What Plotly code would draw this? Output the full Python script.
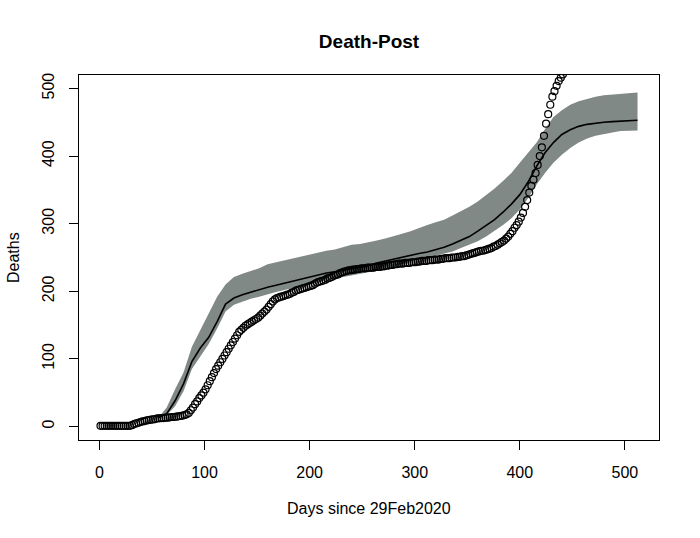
import plotly.graph_objects as go

# Observed deaths (open circles), every 2nd day from day 1 to day 445
obs_days = list(range(1, 446, 2))
obs_deaths = [
    1, 1, 1, 1, 1, 1, 1, 1, 1, 1, 1, 1, 1, 1,
    1, 2, 3.5, 4.5, 5.5, 6.5, 7.5, 8, 9, 9.5, 10, 10.5, 11, 12,
    12, 12.5, 12.5, 13, 13, 13.5, 14, 14, 14.5, 15, 15.5, 16, 17, 18,
    20, 24, 28, 33, 37, 42, 46, 50, 55, 61, 67, 73, 79, 85,
    90, 95, 100, 105, 110, 115, 120, 125, 130, 135, 140, 143, 146, 149,
    151, 153, 155, 157, 159, 161, 164, 167, 170, 173, 177, 181, 185, 188,
    190, 191, 192, 193, 194, 195, 196, 198, 199, 201, 202, 203, 204, 205,
    206, 207, 208, 209, 211, 213, 214, 215, 216, 217, 219, 220, 221, 223,
    224, 225, 227, 228, 229, 230, 231, 231, 232, 232, 233, 233, 234, 234,
    234, 235, 235, 235, 235, 236, 236, 236, 237, 237, 238, 238, 239, 239,
    240, 240, 241, 241, 241, 242, 242, 242, 243, 243, 243, 244, 244, 245,
    245, 245, 246, 246, 246, 247, 247, 247, 248, 248, 249, 249, 249, 250,
    250, 250, 251, 251, 252, 252, 253, 254, 255, 256, 257, 258, 259, 260,
    260, 261, 262, 263, 264, 266, 267, 269, 271, 273, 275, 278, 281, 285,
    289, 294, 298, 303, 309, 316, 325, 335, 346, 356, 365, 375, 387, 400,
    413, 430, 448, 462, 476, 488, 496, 504, 511, 516, 521, 526, 531,
]

# Model: median and uncertainty band, every 8th day from day 56 to 512
model_days = list(range(56, 513, 8))
model_median = [
    13, 19, 38, 63, 96, 116, 132, 155, 181, 190,
    195, 199, 203, 206, 209, 212, 215, 219, 222, 224,
    227, 229, 231, 233, 235, 238, 242, 245, 247, 250,
    253, 256, 258, 261, 265, 270, 275, 281, 289, 297,
    306, 317, 329, 343, 362, 385, 405, 420, 432, 439,
    444, 447, 449, 450, 451, 452, 453, 453,
]
model_upper = [
    13, 28, 55, 80, 118, 142, 168, 192, 210, 221,
    226, 230, 234, 240, 243, 246, 249, 252, 254, 257,
    260, 262, 265, 269, 270, 272, 275, 278, 281, 285,
    289, 294, 298, 302, 306, 312, 318, 325, 333, 342,
    352, 363, 375, 390, 405, 420, 440, 458, 468, 476,
    481, 485, 488, 490, 491, 493, 494, 494,
]
model_lower = [
    13, 17, 30, 52, 85, 103, 122, 145, 170, 180,
    185, 189, 192, 196, 199, 202, 205, 208, 211, 214,
    217, 219, 221, 223, 225, 228, 231, 234, 237, 240,
    243, 246, 249, 252, 255, 259, 264, 269, 274, 281,
    289, 298, 308, 321, 338, 358, 375, 390, 402, 412,
    420, 426, 430, 433, 435, 437, 438, 438,
]

x_ticks = [0, 100, 200, 300, 400, 500]
y_ticks = [0, 100, 200, 300, 400, 500]

BAND = "#818986"
FONT = "Liberation Sans, Arial, sans-serif"

fig = go.Figure()
fig.add_trace(go.Scatter(x=model_days, y=model_lower, mode="lines",
                         line=dict(width=0, color=BAND), hoverinfo="skip",
                         showlegend=False))
fig.add_trace(go.Scatter(x=model_days, y=model_upper, mode="lines",
                         line=dict(width=0, color=BAND), fill="tonexty",
                         fillcolor=BAND, showlegend=False))
fig.add_trace(go.Scatter(x=model_days, y=model_median, mode="lines",
                         line=dict(width=1.6, color="black"), showlegend=False))
fig.add_trace(go.Scatter(x=obs_days, y=obs_deaths, mode="markers",
                         marker=dict(symbol="circle-open", size=7, color="black",
                                     line=dict(width=1.2, color="black")),
                         showlegend=False))

axis_common = dict(showgrid=False, zeroline=False, showline=True, linecolor="black",
                   linewidth=1, mirror=True, ticks="outside", ticklen=9,
                   tickwidth=1, tickcolor="black",
                   tickfont=dict(family=FONT, size=16, color="black"))

fig.update_xaxes(range=[-19.44, 532.44], tickvals=x_ticks,
                 ticklabelstandoff=9, **axis_common)
fig.update_yaxes(range=[-20, 520], tickvals=y_ticks, tickangle=-90,
                 ticklabelstandoff=9, **axis_common)

W, H = 700, 538
fig.update_layout(
    width=W, height=H,
    margin=dict(l=79, r=41, t=75, b=98),
    paper_bgcolor="white", plot_bgcolor="white",
    font=dict(family=FONT, size=16, color="black"),
    title=dict(text="<b>Death-Post</b>", x=369 / W, xanchor="center",
               y=1 - 41 / H, yanchor="middle",
               font=dict(family=FONT, size=19, color="black")),
    annotations=[
        dict(text="Days since 29Feb2020", xref="paper", yref="paper",
             x=0.5, y=-(508 - 440) / 365, xanchor="center", yanchor="middle",
             showarrow=False, font=dict(family=FONT, size=16, color="black")),
        dict(text="Deaths", xref="paper", yref="paper",
             x=(13 - 79) / 580, y=(440 - 258) / 365, xanchor="center",
             yanchor="middle", textangle=-90, showarrow=False,
             font=dict(family=FONT, size=16, color="black")),
    ],
)

# Remove the default page margin so the figure fills the window exactly.
fig.write_html("out.html",
               config={"displayModeBar": False},
               post_script="document.body.style.margin='0';"
                           "document.body.style.overflow='hidden';")
